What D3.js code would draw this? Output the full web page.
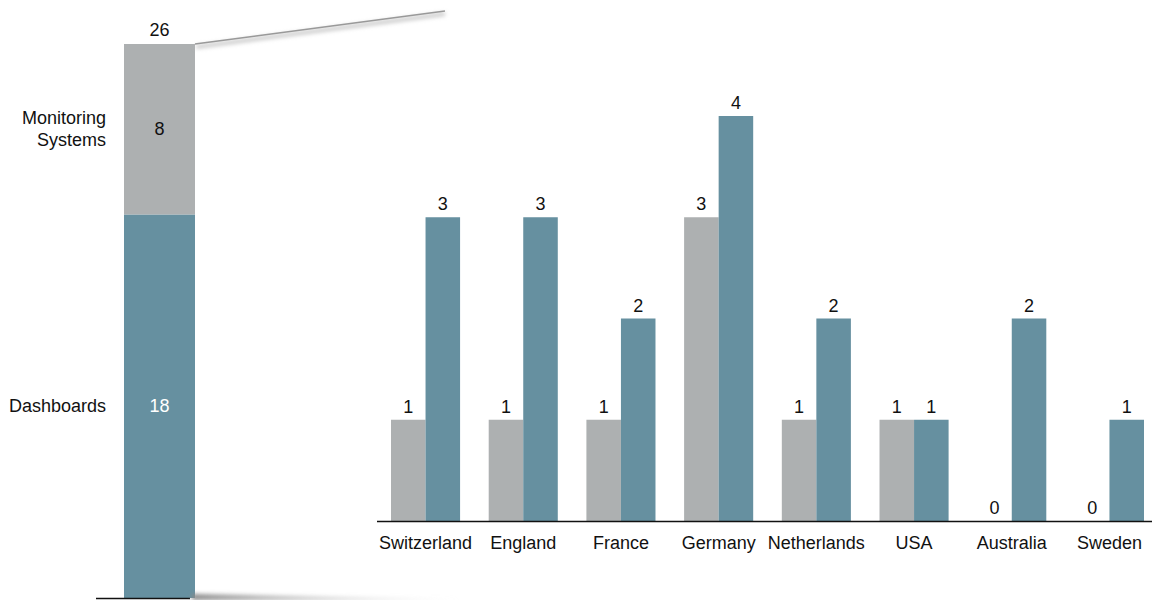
<!DOCTYPE html>
<html><head><meta charset="utf-8">
<script src="https://cdn.jsdelivr.net/npm/d3@7"></script>
<style>body{margin:0;background:#fff}svg{display:block}text{font-family:"Liberation Sans",Arial,sans-serif;font-size:18px;fill:#111}</style>
</head><body><svg id="c" width="1152" height="600"></svg>
<script>
const stackCats = ["Dashboards", "Monitoring Systems"];
const stackVals = [18, 8];
const countries = ["Switzerland","England","France","Germany","Netherlands","USA","Australia","Sweden"];
const monitoring = [1,1,1,3,1,1,0,0];
const dashboards = [3,3,2,4,2,1,2,1];
const colGray = "#adb0b1", colTeal = "#6690a0";

const svg = d3.select("#c");
const defs = svg.append("defs");
const blur = defs.append("filter").attr("id","sh").attr("x","-10%").attr("y","-200%").attr("width","120%").attr("height","500%");
blur.append("feGaussianBlur").attr("stdDeviation",2);
const grad = defs.append("linearGradient").attr("id","fade").attr("x1","0").attr("x2","1");
grad.append("stop").attr("offset","0").attr("stop-color","#888");
grad.append("stop").attr("offset","1").attr("stop-color","#ddd").attr("stop-opacity",0.3);

// Left stacked bar
const total = d3.sum(stackVals);
const yL = d3.scaleLinear().domain([0,total]).range([598,44]);
const xL = 124, wL = 71;
let cum = 0;
const segs = stackVals.map((v,i)=>{const s={cat:stackCats[i],v,y0:cum,y1:cum+v};cum+=v;return s;});
svg.selectAll("rect.stk").data(segs).join("rect")
  .attr("x",xL).attr("width",wL)
  .attr("y",d=>yL(d.y1)).attr("height",d=>yL(d.y0)-yL(d.y1))
  .attr("fill",(d,i)=>i===0?colTeal:colGray);
svg.selectAll("text.stkv").data(segs).join("text")
  .attr("x",xL+wL/2).attr("y",d=>(yL(d.y0)+yL(d.y1))/2+6)
  .attr("text-anchor","middle").style("fill",(d,i)=>i===0?"#fff":"#111").text(d=>d.v);
svg.append("text").attr("x",xL+wL/2).attr("y",yL(total)-8).attr("text-anchor","middle").text(total);
// category labels on left
const lab = svg.selectAll("text.stkl").data(segs).join("text")
  .attr("text-anchor","end").attr("x",106);
lab.each(function(d){
  const t=d3.select(this); const mid=(yL(d.y0)+yL(d.y1))/2;
  const words = d.cat==="Monitoring Systems" ? ["Monitoring","Systems"] : [d.cat];
  const lh=22; const start=mid+6-(words.length-1)*lh/2;
  words.forEach((w,k)=>t.append("tspan").attr("x",106).attr("y",start+k*lh).text(w));
});
svg.append("line").attr("x1",96).attr("x2",190).attr("y1",598.5).attr("y2",598.5).attr("stroke","#111").attr("stroke-width",1.5);

// connector lines
svg.append("line").attr("x1",196).attr("y1",47).attr("x2",445).attr("y2",14).attr("stroke","#bbb").attr("stroke-width",3).attr("filter","url(#sh)");
svg.append("line").attr("x1",195).attr("y1",44).attr("x2",445).attr("y2",11).attr("stroke","#999").attr("stroke-width",1.5);
svg.append("path").attr("d","M192,594 L460,600 L192,600 Z").attr("fill","url(#fade)").attr("filter","url(#sh)");

// Right grouped chart
const base = 521;
const x0 = d3.scaleBand().domain(countries).range([391,1144]).paddingInner(0.293).paddingOuter(0);
const x1 = d3.scaleBand().domain(["m","d"]).range([0,x0.bandwidth()]);
const y = d3.scaleLinear().domain([0,4]).range([base, base-405]);
const data = countries.map((c,i)=>({c, vals:[{k:"m",v:monitoring[i]},{k:"d",v:dashboards[i]}]}));
const g = svg.selectAll("g.grp").data(data).join("g").attr("transform",d=>`translate(${x0(d.c)},0)`);
g.selectAll("rect").data(d=>d.vals).join("rect")
  .attr("x",d=>x1(d.k)).attr("width",x1.bandwidth())
  .attr("y",d=>y(d.v)).attr("height",d=>base-y(d.v))
  .attr("fill",d=>d.k==="m"?colGray:colTeal);
g.selectAll("text").data(d=>d.vals).join("text")
  .attr("x",d=>x1(d.k)+x1.bandwidth()/2).attr("y",d=>y(d.v)-7)
  .attr("text-anchor","middle").text(d=>d.v);
svg.append("line").attr("x1",377).attr("x2",1152).attr("y1",base+0.5).attr("y2",base+0.5).attr("stroke","#111").attr("stroke-width",1.3);
svg.selectAll("text.cl").data(countries).join("text")
  .attr("x",d=>x0(d)+x0.bandwidth()/2).attr("y",549).attr("text-anchor","middle").text(d=>d);
</script></body></html>
